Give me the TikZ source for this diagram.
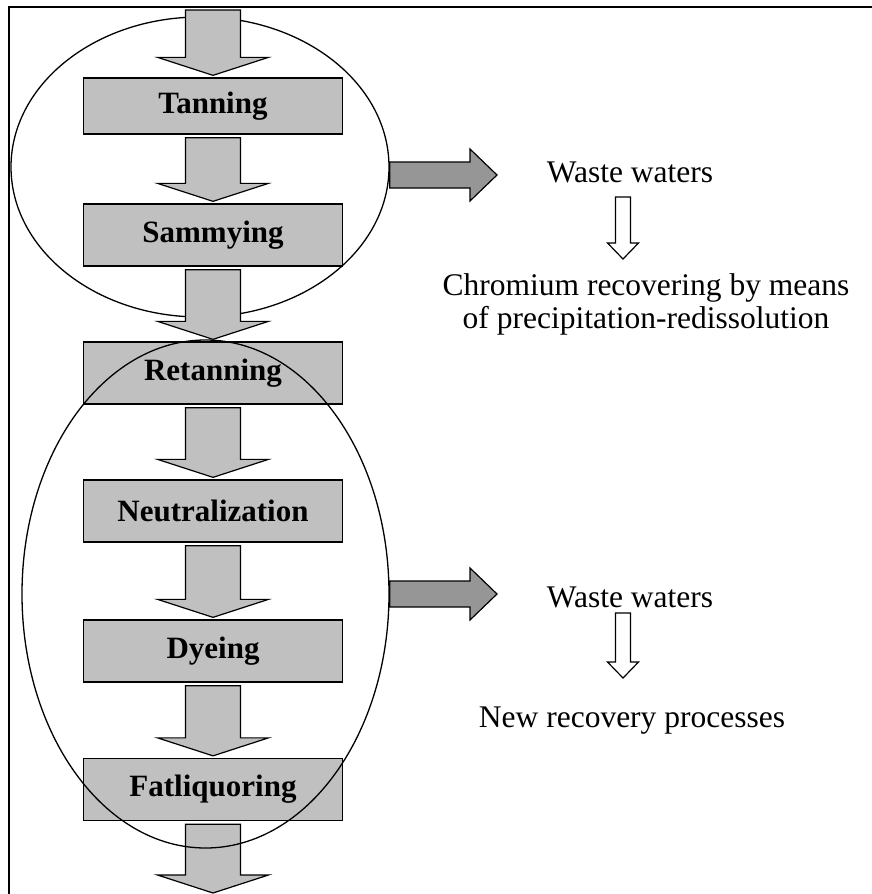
\documentclass[tikz,border=0pt]{standalone}
\usepackage{fontspec}
\setmainfont{Liberation Serif}
\usetikzlibrary{calc,shapes.geometric}
\definecolor{boxgray}{HTML}{C0C0C0}
\definecolor{sidegray}{HTML}{969696}
% vertical grey block arrow: #1 start (top of shaft), #2 tip
\newcommand{\flowdown}[2]{%
  \path[flowarrow] let \p1=(#1), \p2=(#2) in
    (\x1-27.5pt,\y1) -- (\x1+27.5pt,\y1) -- (\x1+27.5pt,\y2+18pt) -- (\x1+55.5pt,\y2+18pt)
    -- (\x1,\y2) -- (\x1-55.5pt,\y2+18pt) -- (\x1-27.5pt,\y2+18pt) -- cycle;}
% horizontal dark grey block arrow: #1 start, #2 tip
\newcommand{\flowright}[2]{%
  \path[sidearrow] let \p1=(#1), \p2=(#2) in
    (\x1,\y1+13pt) -- (\x2-27pt,\y1+13pt) -- (\x2-27pt,\y1+26pt) -- (\x2,\y1)
    -- (\x2-27pt,\y1-26pt) -- (\x2-27pt,\y1-13pt) -- (\x1,\y1-13pt) -- cycle;}
% small hollow arrow: #1 start, #2 tip
\newcommand{\hollowdown}[2]{%
  \path[hollowarrow] let \p1=(#1), \p2=(#2) in
    (\x1-7.5pt,\y1) -- (\x1+7.5pt,\y1) -- (\x1+7.5pt,\y2+16pt) -- (\x1+15.5pt,\y2+16pt)
    -- (\x1,\y2) -- (\x1-15.5pt,\y2+16pt) -- (\x1-7.5pt,\y2+16pt) -- cycle;}
\begin{document}
\begin{tikzpicture}[x=1pt,y=1pt,
  stepbox/.style={draw=black, line width=1.3pt, fill=boxgray, minimum width=259pt,
    minimum height=62pt, inner sep=0pt, font=\bfseries\fontsize{31}{35}\selectfont},
  flowarrow/.style={draw=black, line width=1.2pt, fill=boxgray, line join=miter},
  sidearrow/.style={draw=black, line width=1.2pt, fill=sidegray, line join=miter},
  hollowarrow/.style={draw=black, line width=1.2pt, fill=white, line join=miter},
  ring/.style={draw=black, line width=1.3pt, ellipse, inner sep=0pt},
  txt/.style={font=\fontsize{31.5}{35}\selectfont, inner sep=0pt, anchor=base}]
\useasboundingbox (0,0) rectangle (872,-894);
% frame
\draw[line width=1.5pt] (9,-894) -- (9,-7) -- (872,-7);
% upper ellipse (behind)
\node[ring, minimum width=378pt, minimum height=300pt] (e1) at (200,-167) {};
% process boxes
\node[stepbox, minimum height=56pt] (tan) at (213,-106) {Tanning};
\node[stepbox] (sam) at (213,-235) {Sammying};
\node[stepbox] (ret) at (213,-373) {Retanning};
\node[stepbox] (neu) at (213,-511) {Neutralization};
\node[stepbox] (dye) at (213,-651) {Dyeing};
\node[stepbox] (fat) at (213,-789.5) {Fatliquoring};
% flow arrows
\coordinate (in) at (213,-10);
\coordinate (out) at (213,-893);
\flowdown{in}{[yshift=2pt]tan.north}
\flowdown{[yshift=-3pt]tan.south}{[yshift=2pt]sam.north}
\flowdown{[yshift=-3pt]sam.south}{[yshift=2pt]ret.north}
\flowdown{[yshift=-3pt]ret.south}{[yshift=2pt]neu.north}
\flowdown{[yshift=-3pt]neu.south}{[yshift=2pt]dye.north}
\flowdown{[yshift=-3pt]dye.south}{[yshift=2pt]fat.north}
\flowdown{[yshift=-3pt]fat.south}{out}
% lower ellipse (on top)
\node[ring, minimum width=367pt, minimum height=508pt] (e2) at (205.5,-594) {};
% side arrows
\coordinate (t1) at (497,-175);
\coordinate (t2) at (497,-594.5);
\flowright{[yshift=-8pt]e1.east}{t1}
\flowright{e2.east}{t2}
% right-hand texts
\node[txt] (ww1) at (630,-182) {Waste waters};
\node[txt] (chr1) at (646,-295) {Chromium recovering by means};
\node[txt] (chr2) at (646,-328) {of precipitation-redissolution};
\node[txt] (ww2) at (630,-607) {Waste waters};
\node[txt] (nrp) at (632,-727) {New recovery processes};
% hollow arrows
\coordinate (h1s) at (623,-197);
\coordinate (h1t) at (623,-259);
\coordinate (h2s) at (623,-613);
\coordinate (h2t) at (623,-678);
\hollowdown{h1s}{h1t}
\hollowdown{h2s}{h2t}
\end{tikzpicture}
\end{document}
